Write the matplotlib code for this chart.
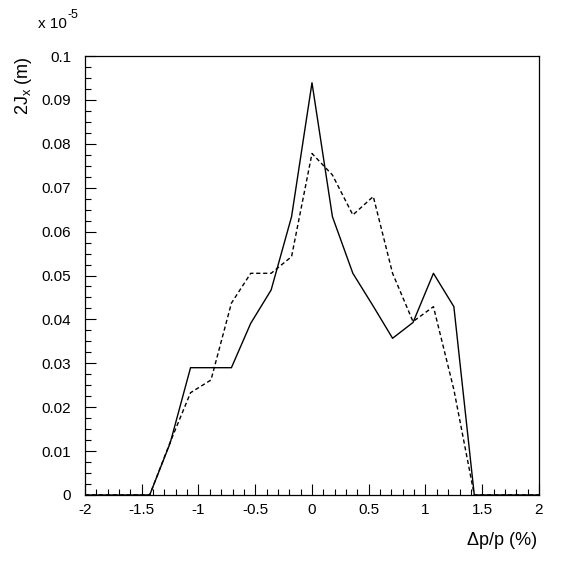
import matplotlib
matplotlib.use("Agg")
import matplotlib.pyplot as plt
from matplotlib.ticker import MultipleLocator, FormatStrFormatter

# momentum offsets (%) and emittance values (x 1e-5 m)
dp = [-2.0, -1.43, -1.25, -1.07, -0.89, -0.71, -0.54, -0.36, -0.18, 0.0,
      0.18, 0.36, 0.54, 0.71, 0.89, 1.07, 1.25, 1.43, 2.0]
jx_solid = [0.0, 0.0, 0.0118, 0.0290, 0.0290, 0.0290, 0.0391, 0.0467, 0.0634, 0.0939,
            0.0634, 0.0505, 0.0430, 0.0357, 0.0393, 0.0505, 0.0429, 0.0, 0.0]
jx_dashed = [0.0, 0.0, 0.0120, 0.0233, 0.0262, 0.0437, 0.0505, 0.0505, 0.0543, 0.0778,
             0.0729, 0.0638, 0.0680, 0.0505, 0.0395, 0.0429, 0.0240, 0.0, 0.0]

plt.rcParams["font.family"] = ["Liberation Sans", "DejaVu Sans"]

fig = plt.figure(figsize=(5.67, 5.67), dpi=100)
ax = fig.add_axes([0.1499, 0.127, 0.8007, 0.7742])

ax.plot(dp, jx_solid, color="black", lw=1.0, ls="-")
ax.plot(dp, jx_dashed, color="black", lw=1.0, ls=(0, (3, 2)))

ax.set_xlim(-2, 2)
ax.set_ylim(0, 0.1)
ax.xaxis.set_major_locator(MultipleLocator(0.5))
ax.xaxis.set_minor_locator(MultipleLocator(0.1))
ax.yaxis.set_major_locator(MultipleLocator(0.01))
ax.yaxis.set_minor_locator(MultipleLocator(0.0025))
ax.xaxis.set_major_formatter(FormatStrFormatter("%g"))
ax.yaxis.set_major_formatter(FormatStrFormatter("%g"))

ax.tick_params(axis="both", which="both", direction="in", top=False, right=False,
               labelsize=11, width=0.8)
ax.tick_params(axis="both", which="major", length=8)
ax.tick_params(axis="both", which="minor", length=4)
ax.tick_params(axis="x", which="major", pad=6)
ax.tick_params(axis="y", which="major", pad=10)
for s in ax.spines.values():
    s.set_linewidth(0.9)

# ROOT-style exponent above the y axis
fig.text(38 / 567, 1 - 28 / 567, "x 10", fontsize=11, ha="left", va="baseline")
fig.text(68 / 567, 1 - 18 / 567, "-5", fontsize=9, ha="left", va="baseline")
fig.text(24 / 567, 0.9012, r"2J$_{\mathregular{x}}$ (m)", fontsize=13,
         rotation=90, ha="center", va="top")
fig.text(537 / 567, 1 - 545 / 567, "Δp/p (%)", fontsize=13, ha="right", va="baseline")

fig.savefig("out.png", dpi=100)
